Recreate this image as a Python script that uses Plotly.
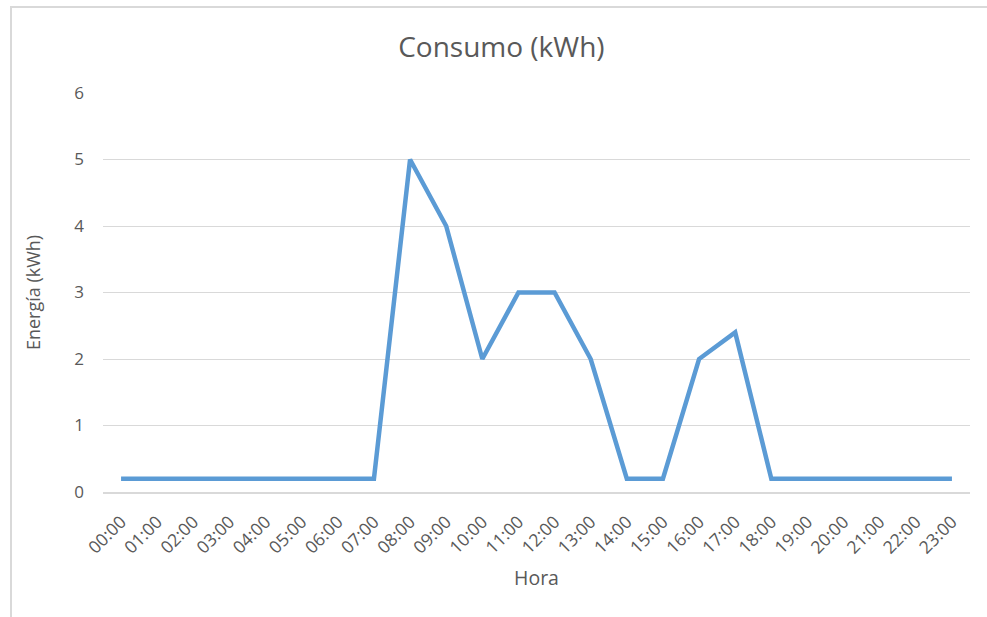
import plotly.graph_objects as go

horas = ["00:00", "01:00", "02:00", "03:00", "04:00", "05:00", "06:00", "07:00",
         "08:00", "09:00", "10:00", "11:00", "12:00", "13:00", "14:00", "15:00",
         "16:00", "17:00", "18:00", "19:00", "20:00", "21:00", "22:00", "23:00"]
consumo = [0.2, 0.2, 0.2, 0.2, 0.2, 0.2, 0.2, 0.2,
           5, 4, 2, 3, 3, 2, 0.2, 0.2,
           2, 2.4, 0.2, 0.2, 0.2, 0.2, 0.2, 0.2]
y_ticks = [0, 1, 2, 3, 4, 5, 6]

FONT = "Open Sans, Liberation Sans, sans-serif"
GRAY = "#595959"

fig = go.Figure()
fig.add_trace(go.Scatter(
    x=horas, y=consumo, mode="lines",
    line=dict(color="#5B9BD5", width=4.5, shape="linear"),
    hoverinfo="x+y", showlegend=False,
))

fig.update_layout(
    width=987, height=617,
    margin=dict(l=103, r=17, t=93, b=125),
    paper_bgcolor="white", plot_bgcolor="white",
    font=dict(family=FONT, color=GRAY, size=16),
    title=dict(text="Consumo (kWh)", x=0.508, xanchor="center", y=0.924, yanchor="middle",
               font=dict(size=28, color=GRAY, family=FONT)),
    xaxis=dict(
        type="category", categoryorder="array", categoryarray=horas,
        range=[-0.5, len(horas) - 0.5], automargin=False,
        tickangle=-45, showgrid=False, zeroline=False,
        showline=True, linecolor="#D9D9D9", linewidth=1.5,
        ticks="", tickfont=dict(size=17.5, color=GRAY), ticklabelstandoff=11,
        title=dict(text="Hora", font=dict(size=19.5, color=GRAY), standoff=14),
    ),
    yaxis=dict(
        range=[0, 6], tickvals=y_ticks, showgrid=True, gridcolor="#D9D9D9", gridwidth=1.2,
        zeroline=False, showline=False, ticks="", automargin=False,
        tickfont=dict(size=17, color=GRAY), ticklabelstandoff=18,
        title=dict(text="Energía (kWh)", font=dict(size=18, color=GRAY), standoff=28),
    ),
    shapes=[dict(type="rect", xref="paper", yref="paper",
                 x0=-0.1061, x1=1.05, y0=-0.33, y1=1.2155,
                 line=dict(color="#D9D9D9", width=2), fillcolor="rgba(0,0,0,0)", layer="below")],
)

fig.write_html("out.html", config={"displayModeBar": False},
               post_script="document.body.style.margin='0';")
